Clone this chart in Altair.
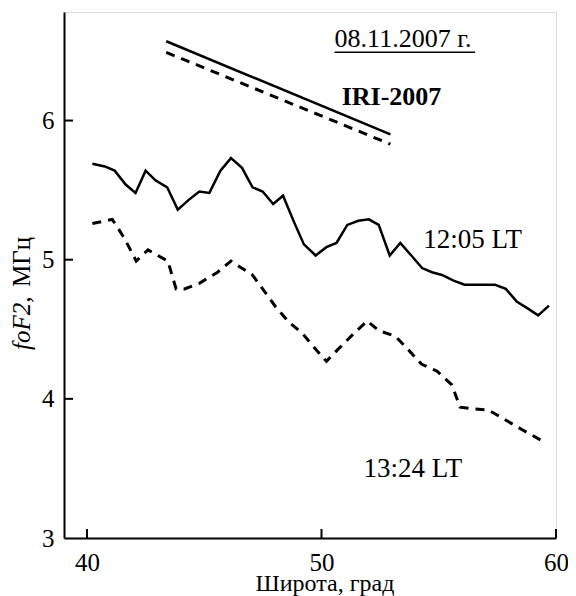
import altair as alt
import pandas as pd

# ---- data ----
lat_1205 = [40.23, 40.76, 41.18, 41.65, 42.07, 42.50, 42.92, 43.42, 43.87, 44.34,
            44.79, 45.22, 45.69, 46.14, 46.61, 47.06, 47.49, 47.94, 48.36, 48.83,
            49.25, 49.75, 50.21, 50.64, 51.10, 51.57, 52.02, 52.44, 52.91, 53.36,
            53.83, 54.29, 54.71, 55.14, 55.63, 56.10, 56.55, 57.01, 57.40, 57.86,
            58.32, 58.79, 59.24, 59.70]
fof2_1205 = [5.69, 5.67, 5.64, 5.54, 5.48, 5.64, 5.57, 5.52, 5.36, 5.43,
             5.49, 5.48, 5.64, 5.73, 5.66, 5.52, 5.49, 5.40, 5.46, 5.27,
             5.11, 5.03, 5.09, 5.12, 5.25, 5.28, 5.29, 5.25, 5.03, 5.12,
             5.03, 4.94, 4.91, 4.89, 4.85, 4.82, 4.82, 4.82, 4.82, 4.79,
             4.70, 4.65, 4.60, 4.67]

lat_1324 = [40.23, 41.08, 41.61, 42.10, 42.60, 43.45, 43.80, 44.16, 44.79, 45.57,
            46.14, 47.06, 47.49, 48.05, 48.62, 49.19, 49.68, 50.21, 50.67, 51.38,
            51.95, 52.44, 53.15, 53.72, 54.26, 54.92, 55.56, 55.91, 56.41, 57.12,
            57.83, 58.54, 59.39]
fof2_1324 = [5.26, 5.29, 5.15, 4.99, 5.07, 4.99, 4.79, 4.79, 4.83, 4.91,
             4.99, 4.89, 4.79, 4.66, 4.55, 4.47, 4.37, 4.27, 4.35, 4.47,
             4.56, 4.49, 4.45, 4.35, 4.25, 4.20, 4.10, 3.94, 3.93, 3.92,
             3.85, 3.78, 3.70]

iri_lat = [43.38, 52.94]
iri_1205 = [6.57, 5.90]
iri_1324 = [6.49, 5.83]

x_ticks = [40, 50, 60]
y_ticks = [3, 4, 5, 6]
x_inner_ticks = [40, 50, 60]
y_inner_ticks = [4, 5, 6]

date_label = "08.11.2007 г."
model_label = "IRI-2007"
label_1205 = "12:05 LT"
label_1324 = "13:24 LT"
x_title = "Широта, град"
y_title_italic = "foF2,"
y_title_plain = "МГц"

# ---- layout ----
W, H = 492, 526
FONT = "Liberation Serif"
FS = 25

xs = alt.Scale(domain=[39.02, 60], nice=False, zero=False)
ys = alt.Scale(domain=[3, 6.78], nice=False, zero=False)

df_1205 = pd.DataFrame({"lat": lat_1205, "f": fof2_1205})
df_1324 = pd.DataFrame({"lat": lat_1324, "f": fof2_1324})
df_iri1 = pd.DataFrame({"lat": iri_lat, "f": iri_1205})
df_iri2 = pd.DataFrame({"lat": iri_lat, "f": iri_1324})

x_axis = alt.Axis(values=x_ticks, title=None, ticks=False, grid=False, format="d",
                  domainColor="black", domainWidth=2, labelFont=FONT,
                  labelFontSize=FS, labelColor="black", labelPadding=12,
                  labelFlush=False)
y_axis = alt.Axis(values=y_ticks, title=None, ticks=False, grid=False, format="d",
                  domainColor="black", domainWidth=2, labelFont=FONT,
                  labelFontSize=FS, labelColor="black", labelPadding=10)

solid_w = 2.5
dash_w = 3
dash = [9, 7]

l1 = alt.Chart(df_1205).mark_line(color="black", strokeWidth=solid_w).encode(
    x=alt.X("lat:Q", scale=xs, axis=x_axis),
    y=alt.Y("f:Q", scale=ys, axis=y_axis),
)
l2 = alt.Chart(df_1324).mark_line(color="black", strokeWidth=dash_w,
                                  strokeDash=dash).encode(
    x=alt.X("lat:Q", scale=xs), y=alt.Y("f:Q", scale=ys))
l3 = alt.Chart(df_iri1).mark_line(color="black", strokeWidth=solid_w).encode(
    x=alt.X("lat:Q", scale=xs), y=alt.Y("f:Q", scale=ys))
l4 = alt.Chart(df_iri2).mark_line(color="black", strokeWidth=dash_w,
                                  strokeDash=dash).encode(
    x=alt.X("lat:Q", scale=xs), y=alt.Y("f:Q", scale=ys))

# inward ticks
xt = alt.Chart(pd.DataFrame({"v": x_inner_ticks})).mark_rule(
    color="black", strokeWidth=2).encode(
    x=alt.X("v:Q", scale=xs), y=alt.value(H), y2=alt.value(H - 9))
yt = alt.Chart(pd.DataFrame({"v": y_inner_ticks})).mark_rule(
    color="black", strokeWidth=2).encode(
    y=alt.Y("v:Q", scale=ys), x=alt.value(0), x2=alt.value(9))

t_date = alt.Chart().mark_text(font=FONT, fontSize=26, color="black",
                               align="left", baseline="alphabetic").encode(
    x=alt.datum(50.56, scale=xs), y=alt.datum(6.527, scale=ys), text=alt.value(date_label))
u_date = alt.Chart().mark_rule(color="black", strokeWidth=1.5).encode(
    x=alt.datum(50.56, scale=xs), x2=alt.datum(56.55), y=alt.datum(6.49, scale=ys))
t_iri = alt.Chart().mark_text(font=FONT, fontSize=26, fontWeight="bold", color="black",
                              align="left", baseline="alphabetic").encode(
    x=alt.datum(50.86, scale=xs), y=alt.datum(6.111, scale=ys), text=alt.value(model_label))
t_1205 = alt.Chart().mark_text(font=FONT, fontSize=27, color="black",
                               align="left", baseline="alphabetic").encode(
    x=alt.datum(54.34, scale=xs), y=alt.datum(5.083, scale=ys), text=alt.value(label_1205))
t_1324 = alt.Chart().mark_text(font=FONT, fontSize=27, color="black",
                               align="left", baseline="alphabetic").encode(
    x=alt.datum(51.79, scale=xs), y=alt.datum(3.438, scale=ys), text=alt.value(label_1324))

# axis titles
t_x = alt.Chart().mark_text(font=FONT, fontSize=24, color="black",
                            align="center", baseline="alphabetic").encode(
    x=alt.value(261), y=alt.value(H + 53), text=alt.value(x_title))
t_y1 = alt.Chart().mark_text(font=FONT, fontSize=FS, fontStyle="italic", color="black",
                             align="left", baseline="alphabetic", angle=270).encode(
    x=alt.value(-34), y=alt.value(338), text=alt.value(y_title_italic))
t_y2 = alt.Chart().mark_text(font=FONT, fontSize=FS, color="black",
                             align="left", baseline="alphabetic", angle=270).encode(
    x=alt.value(-34), y=alt.value(275), text=alt.value(y_title_plain))

chart = alt.layer(l1, l2, l3, l4, xt, yt, t_date, u_date, t_iri, t_1205, t_1324,
                  t_x, t_y1, t_y2).properties(
    width=W, height=H,
    autosize=alt.AutoSizeParams(type="none"),
    padding={"left": 56, "top": 4, "right": 12, "bottom": 58},
).configure_view(stroke=None).configure(background="white")

chart.save("out.html", embed_options={"renderer": "svg", "actions": False})
